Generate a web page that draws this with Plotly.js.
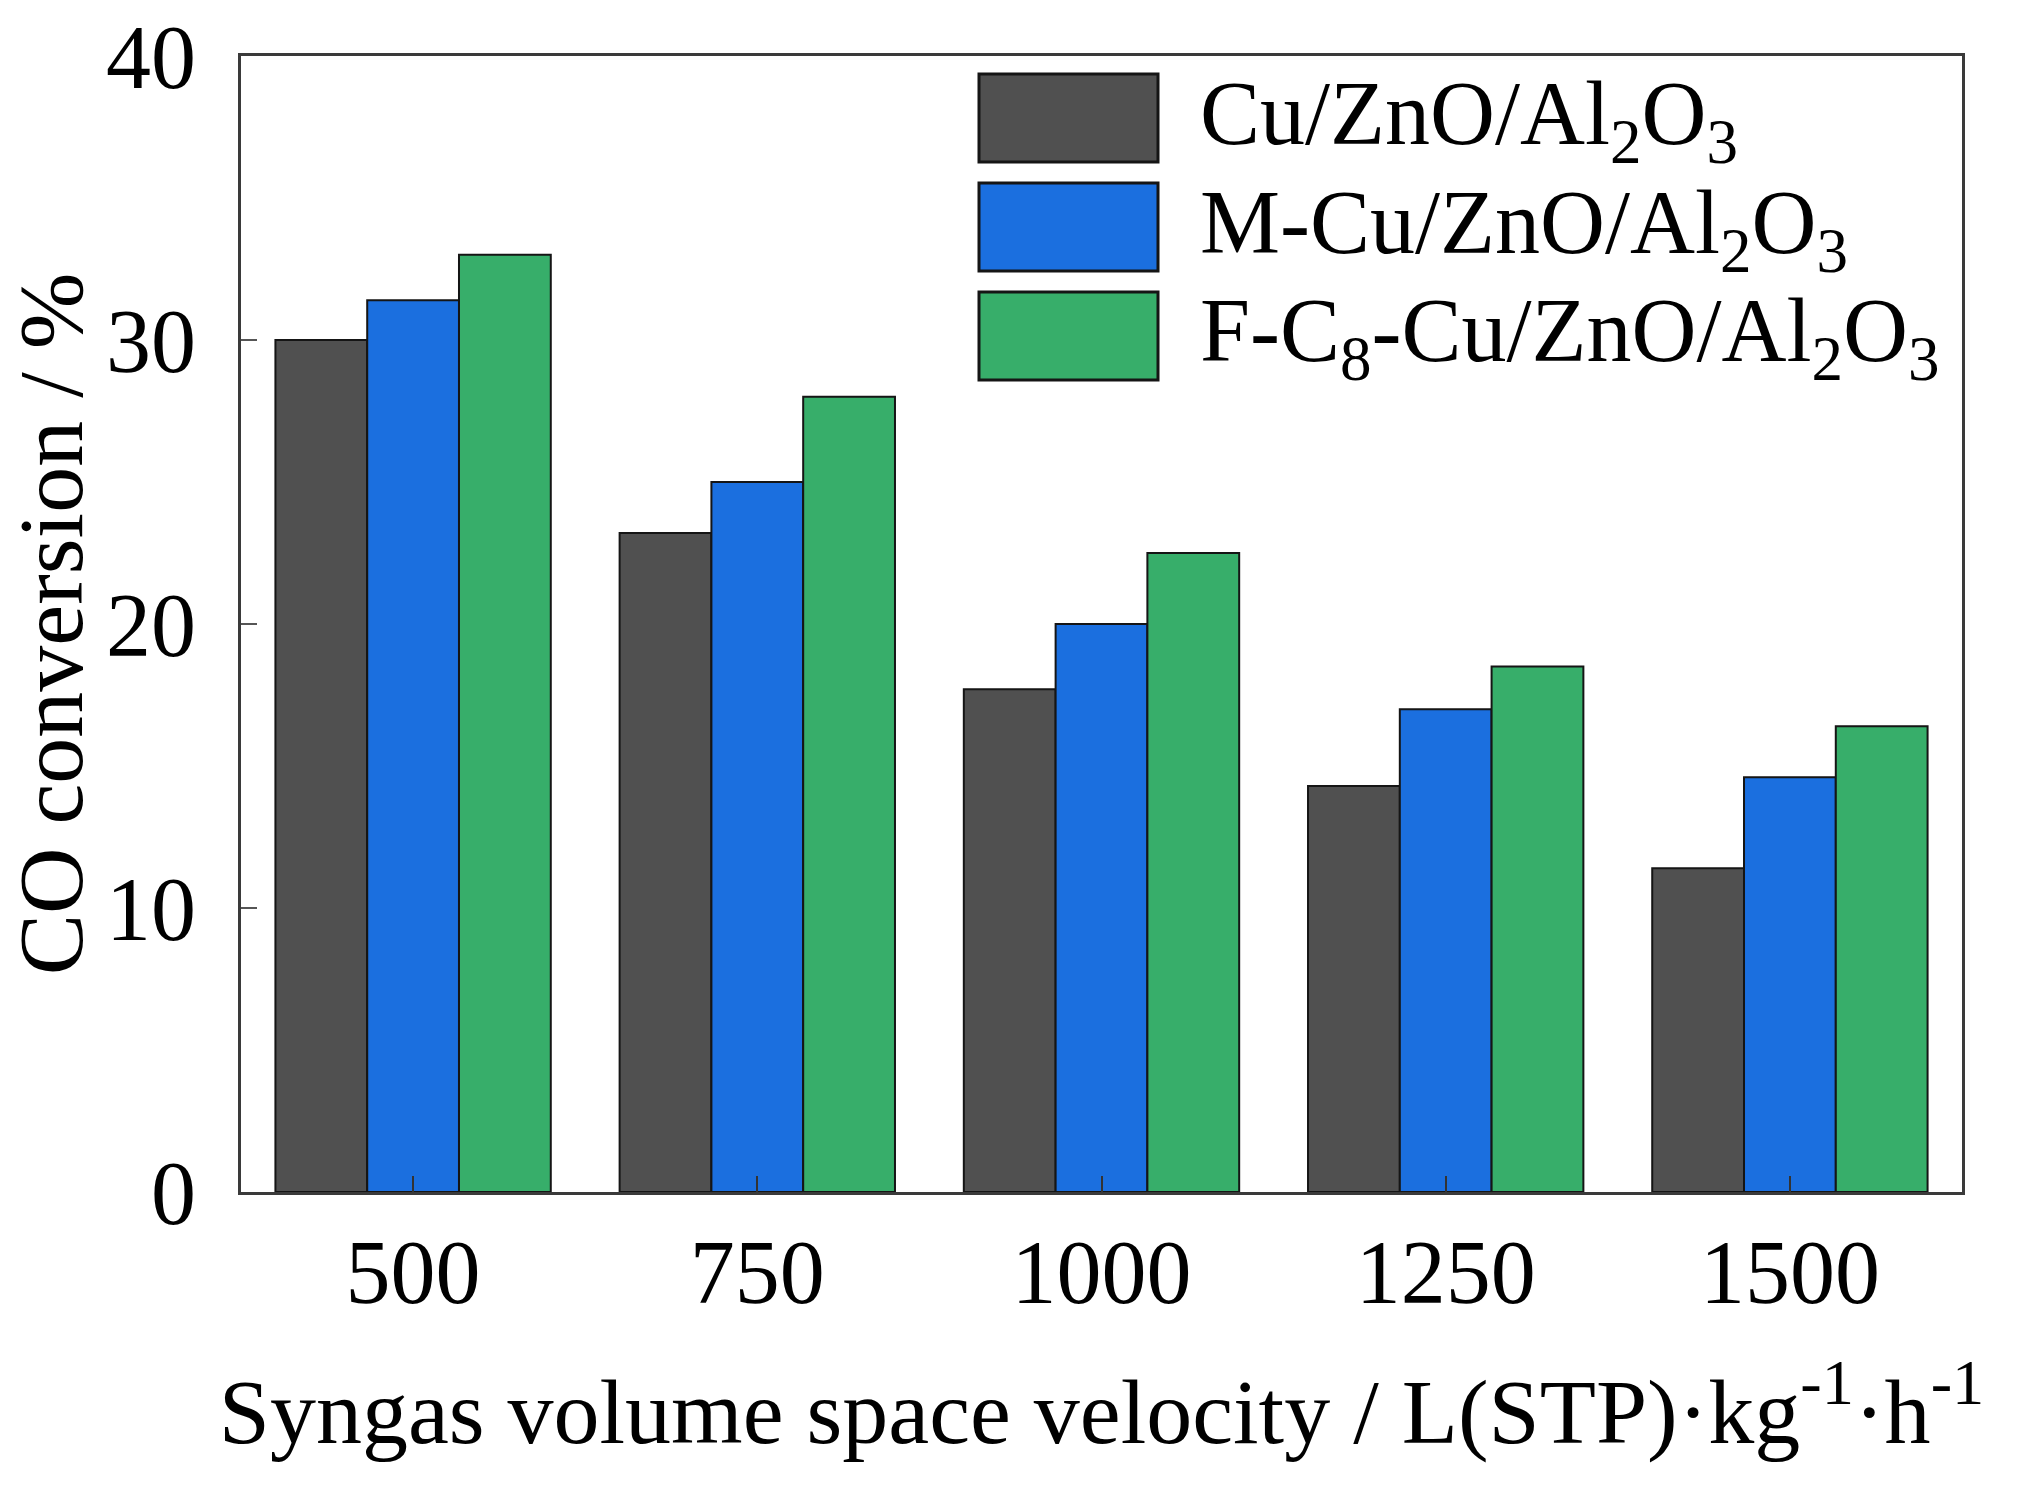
<!DOCTYPE html>
<html>
<head>
<meta charset="utf-8">
<script src="https://cdn.plot.ly/plotly-3.0.1.min.js"></script>
<style>html,body{margin:0;padding:0;background:#fff;}#chart{width:2030px;height:1491px;}</style>
</head>
<body>
<div id="chart"></div>
<script>
// ---- data ----
var categories = ['500', '750', '1000', '1250', '1500'];
var seriesNames = ['Cu/ZnO/Al<sub>2</sub>O<sub>3</sub>', 'M-Cu/ZnO/Al<sub>2</sub>O<sub>3</sub>', 'F-C<sub>8</sub>-Cu/ZnO/Al<sub>2</sub>O<sub>3</sub>'];
var cuZnOAl2O3 = [30.0, 23.2, 17.7, 14.3, 11.4];
var mCuZnOAl2O3 = [31.4, 25.0, 20.0, 17.0, 14.6];
var fC8CuZnOAl2O3 = [33.0, 28.0, 22.5, 18.5, 16.4];
var yTickVals = [0, 10, 20, 30, 40];
var xTitle = 'Syngas volume space velocity / L(STP)·kg<sup>-1</sup>·h<sup>-1</sup>';
var yTitle = 'CO conversion / %';

// ---- styles ----
var colors = ['#505050', '#1b6fdf', '#37ae6a'];
var edge = '#151515';
var FONT = 'Liberation Serif, Times New Roman, serif';
var W = 2030, H = 1491;
var M = {l: 241, r: 68, t: 56, b: 299};

var values = [cuZnOAl2O3, mCuZnOAl2O3, fC8CuZnOAl2O3];
var traces = values.map(function (v, i) {
  return {
    type: 'bar', x: categories, y: v, name: seriesNames[i],
    marker: {color: colors[i], line: {color: edge, width: 2}},
    showlegend: false
  };
});

// custom legend (large swatches) in paper coordinates
var plotH = H - M.t - M.b, plotW = W - M.l - M.r;
function px2x(p) { return (p - M.l) / plotW; }
function py2y(p) { return (H - M.b - p) / plotH; }
var legTop = 74, legH = 88, legPitch = 109, swL = 979, swR = 1158, txtL = 1198;
var shapes = [], annotations = [];
seriesNames.forEach(function (n, i) {
  var t = legTop + i * legPitch;
  shapes.push({type: 'rect', xref: 'paper', yref: 'paper',
    x0: px2x(swL), x1: px2x(swR), y0: py2y(t + legH), y1: py2y(t),
    fillcolor: colors[i], line: {color: edge, width: 3}});
  annotations.push({xref: 'paper', yref: 'paper', x: px2x(txtL), y: py2y(t + legH / 2 + 2),
    xanchor: 'left', yanchor: 'middle', text: n, showarrow: false,
    font: {family: FONT, size: 90, color: '#000'}});
});

var layout = {
  width: W, height: H,
  margin: M,
  paper_bgcolor: '#fff', plot_bgcolor: '#fff',
  bargap: 0.2, bargroupgap: 0,
  barmode: 'group',
  font: {family: FONT, size: 90, color: '#000'},
  xaxis: {
    type: 'category', range: [-0.5, 4.5],
    showline: true, mirror: true, linecolor: '#3a3a3a', linewidth: 3,
    ticks: 'inside', ticklen: 16, tickwidth: 2, tickcolor: '#333',
    showgrid: false, zeroline: false,
    tickfont: {family: FONT, size: 90, color: '#000'},
    ticklabelstandoff: 0,
    title: {text: xTitle, font: {family: FONT, size: 92, color: '#000'}, standoff: 58},
    automargin: false
  },
  yaxis: {
    range: [0, 40], tickvals: yTickVals,
    showline: true, mirror: true, linecolor: '#3a3a3a', linewidth: 3,
    ticks: 'inside', ticklen: 16, tickwidth: 2, tickcolor: '#555',
    showgrid: false, zeroline: false,
    tickfont: {family: FONT, size: 90, color: '#000'},
    ticklabelstandoff: 24,
    title: {text: yTitle, font: {family: FONT, size: 92, color: '#000'}, standoff: 16},
    automargin: false
  },
  shapes: shapes,
  annotations: annotations
};

Plotly.newPlot('chart', traces, layout, {staticPlot: true, displayModeBar: false});
</script>
</body>
</html>
